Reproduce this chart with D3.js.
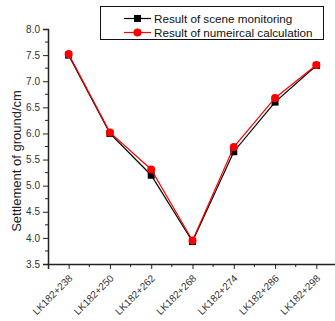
<!DOCTYPE html>
<html>
<head>
<meta charset="utf-8">
<script src="https://cdn.jsdelivr.net/npm/d3@7"></script>
<style>
  html, body { margin: 0; padding: 0; background: #fff; }
  svg { display: block; font-family: "Liberation Sans", Arial, sans-serif; }
</style>
</head>
<body>
<svg id="chart" width="335" height="321"></svg>
<script>
// Measuring stations along the line
const stations = ["LK182+238", "LK182+250", "LK182+262", "LK182+268", "LK182+274", "LK182+286", "LK182+298"];
// Settlement (cm) measured on site
const monitoring = [7.50, 6.00, 5.20, 3.93, 5.65, 6.60, 7.30];
// Settlement (cm) from the numerical model
const calculation = [7.52, 6.02, 5.31, 3.95, 5.74, 6.68, 7.31];
const yTicks = [3.5, 4.0, 4.5, 5.0, 5.5, 6.0, 6.5, 7.0, 7.5, 8.0];
const seriesNames = ["Result of scene monitoring", "Result of numeircal calculation"];

const svg = d3.select("#chart");
const plotLeft = 48, plotRight = 337, plotTop = 29, plotBottom = 264;

const x = d3.scaleLinear().domain([-0.5, stations.length - 0.5]).range([plotLeft, plotRight]);
const y = d3.scaleLinear().domain([3.5, 8.0]).range([plotBottom, plotTop]);

// minor ticks
const yMinor = d3.range(3.75, 8.0, 0.5);
svg.append("g").selectAll("line").data(yMinor).join("line")
  .attr("x1", plotLeft - 3).attr("x2", plotLeft)
  .attr("y1", d => y(d)).attr("y2", d => y(d))
  .attr("stroke", "#222").attr("stroke-width", 1);
const xMinor = d3.range(0, stations.length).map(i => i + 0.5);
svg.append("g").selectAll("line").data(xMinor).join("line")
  .attr("x1", d => x(d)).attr("x2", d => x(d))
  .attr("y1", plotBottom).attr("y2", plotBottom + 3)
  .attr("stroke", "#222").attr("stroke-width", 1);

// y axis
const yAxis = svg.append("g").attr("transform", `translate(${plotLeft},0)`)
  .call(d3.axisLeft(y).tickValues(yTicks).tickFormat(d3.format(".1f")).tickSizeOuter(0).tickSize(5).tickPadding(3));
yAxis.select(".domain").attr("stroke", "#222").attr("stroke-width", 1.5);
yAxis.selectAll(".tick line").attr("stroke", "#222").attr("stroke-width", 1);
yAxis.selectAll("text").attr("font-size", 10).attr("fill", "#333")
  .attr("font-family", "Liberation Sans, Arial, sans-serif");

// x axis
const xAxis = svg.append("g").attr("transform", `translate(0,${plotBottom})`)
  .call(d3.axisBottom(x).tickValues(d3.range(stations.length)).tickFormat(i => stations[i]).tickSizeOuter(0).tickSize(5));
xAxis.select(".domain").attr("stroke", "#222").attr("stroke-width", 1.5);
xAxis.selectAll(".tick line").attr("stroke", "#222").attr("stroke-width", 1);
xAxis.selectAll("text")
  .attr("font-size", 10).attr("fill", "#333")
  .attr("font-family", "Liberation Sans, Arial, sans-serif")
  .attr("text-anchor", "end")
  .attr("dy", null).attr("y", 0)
  .attr("transform", "translate(4,15) rotate(-45)");

// y axis title
svg.append("text")
  .attr("transform", `translate(20.5,161) rotate(-90)`)
  .attr("text-anchor", "middle")
  .attr("font-size", 13).attr("fill", "#222")
  .text("Settlement of ground/cm");

const line = d3.line().x((d, i) => x(i)).y(d => y(d));

// monitoring series (black squares)
svg.append("path").datum(monitoring).attr("d", line)
  .attr("fill", "none").attr("stroke", "#000").attr("stroke-width", 1.2);
svg.append("g").selectAll("rect").data(monitoring).join("rect")
  .attr("x", (d, i) => x(i) - 3.5).attr("y", d => y(d) - 3.5)
  .attr("width", 7).attr("height", 7).attr("fill", "#000");

// calculation series (red circles)
svg.append("path").datum(calculation).attr("d", line)
  .attr("fill", "none").attr("stroke", "#ff0000").attr("stroke-width", 1.2);
svg.append("g").selectAll("circle").data(calculation).join("circle")
  .attr("cx", (d, i) => x(i)).attr("cy", d => y(d)).attr("r", 4)
  .attr("fill", "#ff0000");

// legend
const lg = svg.append("g");
lg.append("rect").attr("x", 100.5).attr("y", 6.5).attr("width", 223).attr("height", 33)
  .attr("fill", "#fff").attr("stroke", "#111").attr("stroke-width", 1);
const rows = [
  { name: seriesNames[0], color: "#000", shape: "square", yy: 18.5 },
  { name: seriesNames[1], color: "#ff0000", shape: "circle", yy: 32.5 }
];
rows.forEach(r => {
  lg.append("line").attr("x1", 124).attr("x2", 151).attr("y1", r.yy).attr("y2", r.yy)
    .attr("stroke", r.color).attr("stroke-width", 1.2);
  if (r.shape === "square") {
    lg.append("rect").attr("x", 137.5 - 3.5).attr("y", r.yy - 3.5).attr("width", 7).attr("height", 7).attr("fill", r.color);
  } else {
    lg.append("circle").attr("cx", 137.5).attr("cy", r.yy).attr("r", 4).attr("fill", r.color);
  }
  lg.append("text").attr("x", 154).attr("y", r.yy + 4).attr("font-size", 11.7).attr("fill", "#111").text(r.name);
});
</script>
</body>
</html>
